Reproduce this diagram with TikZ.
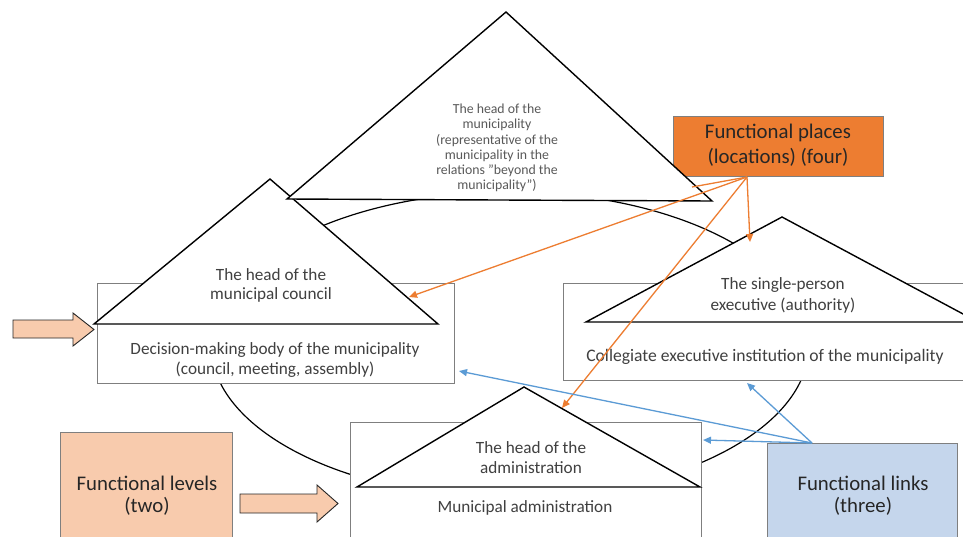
\documentclass[tikz,border=0pt]{standalone}
\usepackage{fontspec}
\setmainfont{Carlito}
\usetikzlibrary{arrows.meta}
\definecolor{orng}{HTML}{ED7D31}
\definecolor{peach}{HTML}{F8CBAD}
\definecolor{lblue}{HTML}{C5D6EC}
\definecolor{bblue}{HTML}{5B9BD5}
\definecolor{txt}{HTML}{404040}
\definecolor{txtdark}{HTML}{262626}
\definecolor{frame}{HTML}{7F7F7F}
\tikzset{
  box/.style={draw=frame,line width=1pt,fill=white,inner sep=0pt,anchor=north west},
  tri/.style={draw=black,line width=1.4pt,fill=white,line join=miter},
  lab/.style={align=center,text=txt,inner sep=0pt},
  biglab/.style={align=center,text=txtdark,inner sep=0pt,font=\fontsize{20.8}{24}\selectfont},
  oarr/.style={draw=orng,line width=1.3pt,-{Triangle[length=8pt,width=7pt]}},
  oline/.style={draw=orng,line width=1.3pt},
  barr/.style={draw=bblue,line width=1.3pt,-{Triangle[length=8pt,width=7pt]}},
  blockarrow/.style={draw=black!85,line width=0.9pt,fill=peach,line join=miter},
}
\begin{document}
\begin{tikzpicture}[x=1pt,y=-1pt]
\useasboundingbox (0,0) rectangle (963,536);
\clip (0,0) rectangle (963,536);
\fill[white] (0,0) rectangle (963,536);

% background ellipse
\draw[line width=1.2pt] (510,345) ellipse [x radius=299, y radius=153];

% boxes
\node[box,minimum width=357,minimum height=100] (council) at (97,283) {};
\node[box,minimum width=412,minimum height=97] (colleg) at (563,283) {};
\node[box,minimum width=351,minimum height=130] (admin) at (350,422) {};
\node[box,fill=peach,minimum width=172,minimum height=120] (levels) at (60,432) {};
\node[box,fill=lblue,minimum width=190,minimum height=110] (links) at (767,443) {};
\node[box,fill=orng,minimum width=210,minimum height=60] (places) at (673,116) {};

% triangles
\coordinate (bigA) at (506,12);
\coordinate (bigL) at (287,199);
\coordinate (bigR) at (712,201);
\coordinate (cA) at (270,179);
\coordinate (cL) at (94,324);
\coordinate (cR) at (438,324);
\coordinate (sA) at (782,217);
\coordinate (sL) at (586,322);
\coordinate (sR) at (978,322);
\coordinate (aA) at (524,387);
\coordinate (aL) at (357,487);
\coordinate (aR) at (700,487);
\draw[tri] (cA) -- (cL) -- (cR) -- cycle;
\draw[tri] (bigA) -- (bigL) -- (bigR) -- cycle;
\draw[tri] (sA) -- (sL) -- (sR) -- cycle;
\draw[tri] (aA) -- (aL) -- (aR) -- cycle;

% texts
\node[lab,text=black!65,font=\fontsize{13.8}{15.2}\selectfont] (bigtxt) at (497,148)
  {The head of the\\municipality\\(representative of the\\municipality in the\\relations "beyond the\\municipality")};
\node[lab,font=\fontsize{17.2}{19}\selectfont] (ctritxt) at (271,285.5) {The head of the\\municipal council};
\node[lab,font=\fontsize{17.2}{20}\selectfont] (ctxt) at (275,360) {Decision-making body of the municipality\\(council, meeting, assembly)};
\node[lab,font=\fontsize{17.2}{21}\selectfont] (stritxt) at (783,295.5) {The single-person\\executive (authority)};
\node[lab,font=\fontsize{17.6}{20}\selectfont] (coltxt) at (765,357) {Collegiate executive institution of the municipality};
\node[lab,font=\fontsize{17.2}{20}\selectfont] (atritxt) at (531,458) {The head of the\\administration};
\node[lab,font=\fontsize{17.2}{20}\selectfont] (atxt) at (525,508) {Municipal administration};
\node[biglab,font=\fontsize{20.8}{25}\selectfont] (placestxt) at (778,145.5) {Functional places\\(locations) (four)};
\node[biglab,font=\fontsize{20.8}{22}\selectfont] (levelstxt) at (147,496) {Functional levels\\(two)};
\node[biglab,font=\fontsize{20.8}{22}\selectfont] (linkstxt) at (863,496) {Functional links\\(three)};

% block arrows
\draw[blockarrow] (13,320) -- (73,320) -- (73,313) -- (94,329.5) -- (73,346) -- (73,338) -- (13,338) -- cycle;
\draw[blockarrow] (240,494) -- (317,494) -- (317,485) -- (338,503.5) -- (317,522) -- (317,513) -- (240,513) -- cycle;

% orange connectors
\coordinate (psrc) at (747,177);
\coordinate (tbig) at (692,187);
\coordinate (tcouncil) at (409,297);
\coordinate (tsingle) at (750,242);
\coordinate (tadmin) at (562,408);
\draw[oline] (psrc) -- (tbig);
\draw[oarr] (psrc) -- (tcouncil);
\draw[oarr] (psrc) -- (tsingle);
\draw[oarr] (psrc) -- (tadmin);

% blue connectors
\coordinate (lsrc) at (812,443);
\coordinate (bcouncil) at (459,371);
\coordinate (bcolleg) at (747,383);
\coordinate (badmin) at (703,440);
\draw[barr] (lsrc) -- (bcouncil);
\draw[barr] (lsrc) -- (bcolleg);
\draw[barr] (lsrc) -- (badmin);
\end{tikzpicture}
\end{document}
